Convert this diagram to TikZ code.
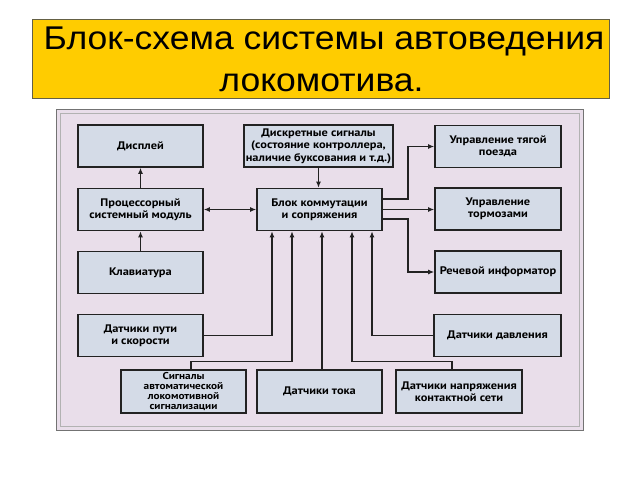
\documentclass[tikz,border=0pt]{standalone}
\usepackage{fontspec}
\setmainfont[FakeStretch=1.08]{Liberation Sans}
\newfontfamily\boxfamily[FakeStretch=1.13]{PT Sans}
\usetikzlibrary{arrows.meta}
\definecolor{titlefill}{HTML}{FFCC00}
\definecolor{framefill}{HTML}{E9DEEA}
\definecolor{boxfill}{HTML}{D4DBE7}
\definecolor{linecol}{HTML}{222222}
\tikzset{
  blk/.style={draw=linecol, line width=1.6bp, fill=boxfill, inner sep=0pt,
    minimum height=42bp, align=center,
    font=\boxfamily\bfseries\fontsize{11}{12.5}\selectfont},
  conn/.style={draw=linecol, line width=1.4bp},
  arr/.style={conn, -{Latex[length=6bp,width=5bp]}},
  darr/.style={conn, {Latex[length=6bp,width=5bp]}-{Latex[length=6bp,width=5bp]}}
}
\begin{document}
\begin{tikzpicture}[x=1bp,y=-1bp]
\useasboundingbox (0,0) rectangle (640,480);
\fill[white] (0,0) rectangle (640,480);
% title
\node[draw=black!70!yellow, line width=0.8bp, fill=titlefill, minimum width=577bp, minimum height=79bp, inner sep=0pt] (titlebox) at (320.5,58.5) {};
\node[font=\fontsize{33}{42}\selectfont, align=center, inner sep=0pt, anchor=base] (title1) at (324,50) {Блок-схема системы автоведения};
\node[font=\fontsize{33}{42}\selectfont, inner sep=0pt, anchor=base] (title2) at (321.5,92) {локомотива.};
% frame
\node[draw=black!55, line width=1bp, fill=framefill, minimum width=526bp, minimum height=320bp, inner sep=0pt] (frame) at (320,270) {};
\node[draw=black!30, line width=0.8bp, minimum width=519bp, minimum height=313bp, inner sep=0pt] (frameinner) at (320,270) {};
% boxes
\node[blk, minimum width=125bp] (disp) at (140.5,146) {Дисплей};
\node[blk, minimum width=125bp] (proc) at (140.5,209.5) {Процессорный\\системный модуль};
\node[blk, minimum width=125bp] (kbd) at (140.5,272.5) {Клавиатура};
\node[blk, minimum width=125bp] (path) at (140.5,335.5) {Датчики пути\\и скорости};
\node[blk, minimum width=149bp] (disc) at (318.5,146) {Дискретные сигналы\\(состояние контроллера,\\наличие буксования и т.д.)};
\node[blk, minimum width=125bp] (blkc) at (319.5,209.5) {Блок коммутации\\и сопряжения};
\node[blk, minimum width=126bp] (trac) at (498,146.5) {Управление тягой\\поезда};
\node[blk, minimum width=126bp] (brake) at (498,209) {Управление\\тормозами};
\node[blk, minimum width=126bp] (voice) at (498,272) {Речевой информатор};
\node[blk, minimum width=127bp] (press) at (497.5,335.5) {Датчики давления};
\node[blk, minimum width=125bp, minimum height=43bp, font=\boxfamily\bfseries\fontsize{10}{10}\selectfont] (als) at (183.5,391.5) {Сигналы\\автоматической\\локомотивной\\сигнализации};
\node[blk, minimum width=125bp, minimum height=43bp] (curr) at (319.5,391.5) {Датчики тока};
\node[blk, minimum width=126bp, minimum height=43bp] (volt) at (459,391.5) {Датчики напряжения\\контактной сети};
% connectors
\draw[arr] (proc.north) -- (disp.south);
\draw[arr] (kbd.north) -- (proc.south);
\draw[darr] (proc.east) -- (blkc.west);
\draw[arr] (disc.south) -- (disc.south |- blkc.north);
\draw[arr] ([yshift=10.5bp]blkc.east) -- ++(25,0) |- (trac.west);
\draw[arr] (blkc.east) -- (blkc.east -| brake.west);
\draw[arr] ([yshift=-9.5bp]blkc.east) -- ++(25,0) |- (voice.west);
\draw[arr] (path.east) -| ([xshift=-47.5bp]blkc.south);
\draw[arr] ([xshift=7.5bp]als.north) -- ++(0,-8) -| ([xshift=-27.5bp]blkc.south);
\draw[arr] ([xshift=2.5bp]curr.north) -- ([xshift=2.5bp]blkc.south);
\draw[arr] ([xshift=-7bp]volt.north) -- ++(0,-8) -| ([xshift=32.5bp]blkc.south);
\draw[arr] (press.west) -| ([xshift=52.5bp]blkc.south);
\end{tikzpicture}
\end{document}
